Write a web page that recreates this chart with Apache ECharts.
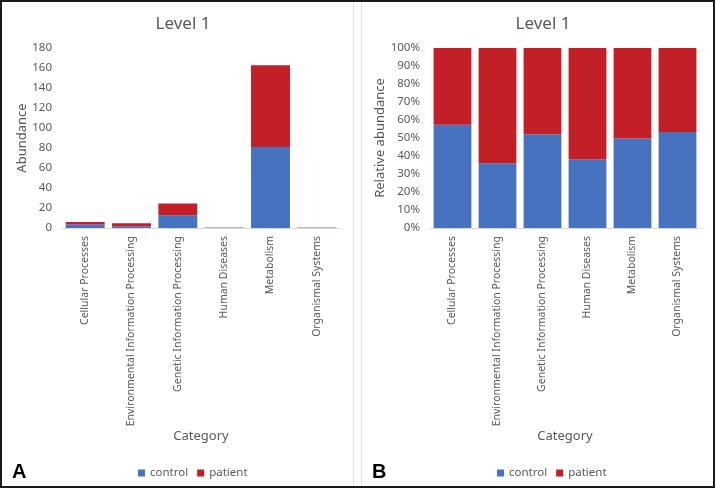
<!DOCTYPE html>
<html>
<head>
<meta charset="utf-8">
<style>
  html, body { margin: 0; padding: 0; background: #fff; }
  #chart { width: 715px; height: 488px; }
</style>
<script src="https://cdn.jsdelivr.net/npm/echarts@6/dist/echarts.min.js"></script>
</head>
<body>
<div id="chart"></div>
<script>
var categories = ['Cellular Processes', 'Environmental Information Processing', 'Genetic Information Processing',
    'Human Diseases', 'Metabolism', 'Organismal Systems'];
var control = [3.44, 1.69, 12.7, 0.19, 81, 0.32];
var patient = [2.56, 3.01, 11.7, 0.31, 81.7, 0.28];
var abundanceTicks = { min: 0, max: 180, interval: 20 };
var relativeTicks = { min: 0, max: 100, interval: 10 };

var FONT = "'Noto Sans', sans-serif";
var GREY = '#595959';
var BLUE = '#4672c0';
var RED = '#c21f26';

// share of each group within a category, in percent
function share(a, b) {
    return a.map(function (v, i) {
        return +(v / (v + b[i]) * 100).toFixed(2);
    });
}
var controlPct = share(control, patient);
var patientPct = share(patient, control);

function xAxis(grid) {
    return {
        type: 'category',
        gridIndex: grid,
        data: categories,
        axisLine: { show: true, lineStyle: { color: '#d9d9d9' } },
        axisTick: { show: false },
        axisLabel: { rotate: 90, interval: 0, margin: 8, fontSize: 10.5, color: GREY, fontFamily: FONT },
        name: 'Category',
        nameLocation: 'middle',
        nameGap: 198,
        nameTextStyle: { fontSize: 13, color: GREY, fontFamily: FONT }
    };
}

function yAxis(grid, ticks, name, fmt) {
    return {
        type: 'value',
        gridIndex: grid,
        min: ticks.min,
        max: ticks.max,
        interval: ticks.interval,
        axisLine: { show: false },
        axisTick: { show: false },
        splitLine: { show: false },
        axisLabel: { fontSize: 11.5, color: GREY, fontFamily: FONT, margin: 10, formatter: fmt },
        name: name,
        nameLocation: 'middle',
        nameGap: grid === 0 ? 27 : 37,
        nameTextStyle: { fontSize: 13, color: GREY, fontFamily: FONT }
    };
}

function bar(name, data, color, grid) {
    return {
        type: 'bar',
        name: name,
        stack: 'g' + grid,
        xAxisIndex: grid,
        yAxisIndex: grid,
        data: data,
        barCategoryGap: '16%',
        itemStyle: { color: color },
        emphasis: { disabled: true }
    };
}

var chart = echarts.init(document.getElementById('chart'));
chart.setOption({
    animation: false,
    textStyle: { fontFamily: FONT },
    title: [
        { text: 'Level 1', left: 178, top: 11, textAlign: 'center',
          textStyle: { fontSize: 17, fontWeight: 'normal', color: GREY, fontFamily: FONT } },
        { text: 'Level 1', left: 538, top: 11, textAlign: 'center',
          textStyle: { fontSize: 17, fontWeight: 'normal', color: GREY, fontFamily: FONT } }
    ],
    legend: [
        { data: ['control', 'patient'], left: 133, top: 462, itemWidth: 7, itemHeight: 7, itemGap: 9,
          icon: 'rect', textStyle: { fontSize: 11.5, color: GREY, fontFamily: FONT }, selectedMode: false },
        { data: ['control', 'patient'], left: 492, top: 462, itemWidth: 7, itemHeight: 7, itemGap: 9,
          icon: 'rect', textStyle: { fontSize: 11.5, color: GREY, fontFamily: FONT }, selectedMode: false }
    ],
    grid: [
        { left: 62, top: 48, width: 278, height: 180 },
        { left: 430, top: 48, width: 270, height: 180 }
    ],
    xAxis: [xAxis(0), xAxis(1)],
    yAxis: [
        yAxis(0, abundanceTicks, 'Abundance'),
        yAxis(1, relativeTicks, 'Relative abundance', '{value}%')
    ],
    series: [
        bar('control', control, BLUE, 0),
        bar('patient', patient, RED, 0),
        bar('control', controlPct, BLUE, 1),
        bar('patient', patientPct, RED, 1)
    ],
    graphic: [
        { type: 'line', shape: { x1: 353.5, y1: 0, x2: 353.5, y2: 488 }, style: { stroke: '#e3e3e3', lineWidth: 1 } },
        { type: 'line', shape: { x1: 361.5, y1: 0, x2: 361.5, y2: 488 }, style: { stroke: '#e3e3e3', lineWidth: 1 } },
        { type: 'rect', shape: { x: 1, y: 1, width: 713, height: 486 }, style: { fill: null, stroke: '#1a1a1a', lineWidth: 2 } },
        { type: 'text', left: 12, top: 462, style: { text: 'A', fontSize: 20, fontWeight: 'bold', fill: '#000', fontFamily: "'Liberation Sans', sans-serif" } },
        { type: 'text', left: 372, top: 462, style: { text: 'B', fontSize: 20, fontWeight: 'bold', fill: '#000', fontFamily: "'Liberation Sans', sans-serif" } }
    ]
});
</script>
</body>
</html>
